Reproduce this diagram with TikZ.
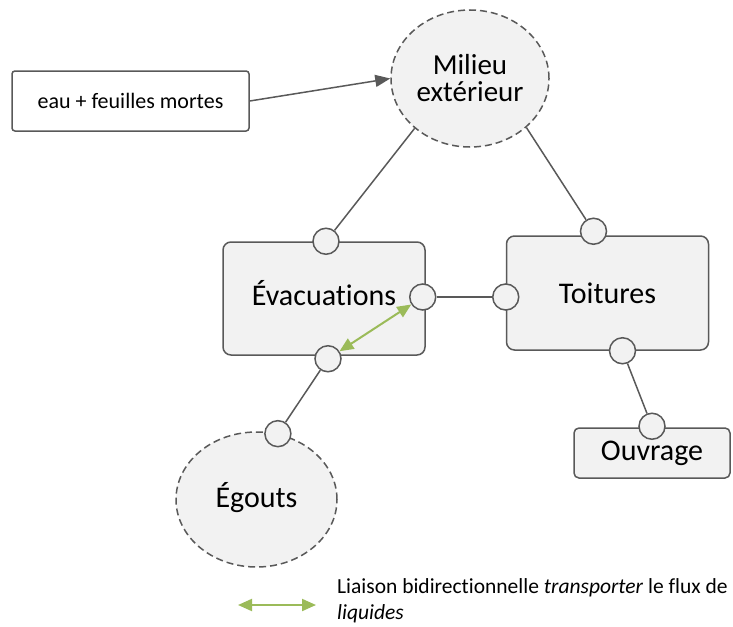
\documentclass[tikz,border=0pt]{standalone}
\usepackage{fontspec}
\setmainfont{Carlito}[Ligatures=NoCommon]
\usepackage{xcolor}
\usetikzlibrary{arrows.meta,positioning,shapes.geometric}
\definecolor{edgegray}{HTML}{595959}
\definecolor{boxfill}{HTML}{F2F2F2}
\definecolor{flowgreen}{HTML}{9BBB59}

\begin{document}
\begin{tikzpicture}[
      x=1pt, y=-1pt,
      font=\fontsize{30}{30}\selectfont,
      block/.style={draw=edgegray, fill=boxfill, rounded corners=8pt, line width=1.5pt,
                    minimum width=202pt, minimum height=113pt, inner sep=0pt},
      cloud/.style={ellipse, draw=edgegray, fill=boxfill, dash pattern=on 7pt off 4pt,
                    line width=1.5pt, inner sep=0pt, align=center},
      port/.style={circle, draw=edgegray, fill=boxfill, line width=1.5pt,
                   minimum size=26pt, inner sep=0pt},
      link/.style={draw=edgegray, line width=1.5pt},
      flow/.style={draw=flowgreen, line width=2pt,
                   {Triangle[length=14pt,width=12pt]}-{Triangle[length=14pt,width=12pt]}}
    ]
    \useasboundingbox (0,0) rectangle (733,626);

    % --- source and surroundings -------------------------------------------
    \node[draw=edgegray, fill=white, rounded corners=3pt, line width=1.5pt,
          minimum width=237pt, minimum height=60pt,
          font=\fontsize{22}{22}\selectfont] (eau) at (130.5,101) {eau + feuilles mortes};
    \node[cloud, minimum width=158pt, minimum height=137pt,
          font=\fontsize{29}{27}\selectfont] (milieu) at (470,78.5) {Milieu\\extérieur};

    % --- main blocks -------------------------------------------------------
    \node[block, text depth=12pt] (evac) at (324,298.5) {Évacuations};
    \node[block, minimum height=114pt] (toit) at (607.5,293) {Toitures};
    \node[cloud, minimum width=161pt, minimum height=135pt, text depth=9pt]
          (egouts) at (256.5,499.5) {Égouts};
    \node[block, rounded corners=5pt, minimum width=156pt, minimum height=50pt]
          (ouvr) at (652,453) {Ouvrage};

    % --- ports -------------------------------------------------------------
    \node[port] (evacN) at ([xshift=2pt]evac.north) {};
    \node[port] (evacE) at ([xshift=-3pt, yshift=1.5pt]evac.east) {};
    \node[port] (evacS) at ([xshift=4pt, yshift=-3pt]evac.south) {};
    \node[port] (toitN) at ([xshift=-14pt, yshift=4pt]toit.north) {};
    \node[port] (toitW) at ([yshift=-4pt]toit.west) {};
    \node[port] (toitS) at ([xshift=15pt]toit.south) {};
    \node[port] (egoutsN) at (egouts.72) {};
    \node[port] (ouvrN) at ([yshift=1pt]ouvr.north) {};

    % --- connections -------------------------------------------------------
    \draw[link, -{Triangle[length=15pt,width=12pt]}] (eau.east) -- (milieu.west);
    \draw[link] (milieu.-138) -- (evacN);
    \draw[link] (milieu.-41) -- (toitN);
    \draw[link] (evacE) -- (toitW);
    \draw[link] (evacS) -- (egoutsN);
    \draw[link] (toitS) -- (ouvrN);

    % --- liquid flow inside the drains ------------------------------------
    \draw[flow] (evacS) -- (evacE);

    % --- legend ------------------------------------------------------------
    \coordinate (legA) at (238,605);
    \coordinate (legB) at (316,605);
    \draw[flow] (legA) -- (legB);
    \node[anchor=west, align=left, inner sep=0pt, font=\fontsize{21.5}{26}\selectfont]
          (legtxt) at (337,601)
          {Liaison bidirectionnelle \textit{transporter} le flux de\\\textit{liquides}};
  \end{tikzpicture}
\end{document}
